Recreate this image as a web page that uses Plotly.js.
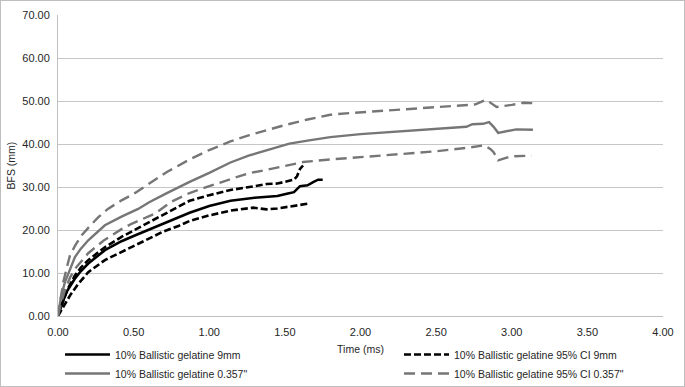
<!DOCTYPE html>
<html>
<head>
<meta charset="utf-8">
<script src="https://cdn.plot.ly/plotly-3.0.1.min.js"></script>
<style>
  html, body { margin: 0; padding: 0; background: #fff; }
  #wrap { position: relative; width: 685px; height: 387px; }
  #chart { width: 685px; height: 387px; }
  #frame { position: absolute; left: 0; top: 0; width: 685px; height: 387px; box-sizing: border-box;
           border: 1px solid #bfbfbf; pointer-events: none; }
</style>
</head>
<body>
<div id="wrap"><div id="chart"></div><div id="frame"></div></div>
<script>
// 10% Ballistic gelatine 9mm (mean)
const t9   = [0, 0.03, 0.06, 0.11, 0.15, 0.2, 0.31, 0.42, 0.5, 0.58, 0.7, 0.8, 0.87, 1.0, 1.14, 1.3, 1.45, 1.52, 1.56, 1.6, 1.65, 1.69, 1.72, 1.75];
const bfs9 = [0, 3.2, 5.8, 8.6, 10.4, 12.2, 15.3, 17.4, 18.6, 19.8, 21.6, 23.0, 24.0, 25.6, 26.8, 27.5, 27.9, 28.5, 28.8, 30.2, 30.4, 31.2, 31.7, 31.7];

// 95% CI 9mm upper / lower
const tU9  = [0, 0.03, 0.06, 0.11, 0.15, 0.2, 0.31, 0.42, 0.5, 0.58, 0.7, 0.8, 0.87, 1.0, 1.14, 1.3, 1.38, 1.45, 1.5, 1.56, 1.58, 1.6, 1.62];
const uci9 = [0, 3.0, 6.0, 9.3, 11.2, 13.0, 16.0, 18.4, 19.9, 21.4, 23.8, 25.6, 26.8, 28.1, 29.3, 30.2, 30.7, 30.8, 31.2, 31.7, 32.5, 34.2, 35.0];
const tL9  = [0, 0.04, 0.08, 0.13, 0.2, 0.31, 0.42, 0.5, 0.58, 0.7, 0.8, 0.87, 1.0, 1.14, 1.29, 1.34, 1.38, 1.45, 1.55, 1.65];
const lci9 = [0, 2.5, 4.8, 7.3, 10.2, 13.0, 14.9, 16.2, 17.6, 19.7, 21.0, 22.1, 23.4, 24.5, 25.2, 25.0, 24.8, 25.0, 25.5, 26.1];

// 10% Ballistic gelatine 0.357" (mean)
const t357   = [0, 0.02, 0.046, 0.08, 0.112, 0.15, 0.2, 0.31, 0.42, 0.53, 0.6, 0.71, 0.8, 0.87, 1.0, 1.14, 1.26, 1.38, 1.53, 1.65, 1.8, 2.0, 2.3, 2.5, 2.7, 2.74, 2.81, 2.85, 2.88, 2.91, 2.96, 3.03, 3.14];
const bfs357 = [0, 4.5, 7.9, 11.0, 13.7, 15.6, 17.6, 21.1, 23.1, 24.9, 26.4, 28.4, 30.0, 31.2, 33.3, 35.7, 37.3, 38.6, 40.1, 40.8, 41.6, 42.3, 43.0, 43.5, 44.0, 44.6, 44.7, 45.1, 44.0, 42.6, 43.0, 43.4, 43.3];

// 95% CI 0.357" upper / lower
const tU357  = [0, 0.02, 0.035, 0.06, 0.079, 0.112, 0.157, 0.2, 0.267, 0.33, 0.42, 0.5, 0.6, 0.72, 0.87, 1.0, 1.14, 1.26, 1.38, 1.5, 1.65, 1.8, 1.93, 2.2, 2.5, 2.7, 2.76, 2.83, 2.86, 2.9, 3.0, 3.08, 3.14];
const uci357 = [0, 4.5, 7.9, 11.5, 14.1, 16.3, 18.8, 20.5, 23.0, 24.9, 26.9, 28.4, 30.7, 33.5, 36.4, 38.6, 40.6, 42.0, 43.2, 44.4, 45.7, 46.8, 47.2, 47.8, 48.5, 49.0, 49.2, 50.3, 49.6, 48.6, 49.1, 49.6, 49.5];
const tL357  = [0, 0.02, 0.046, 0.08, 0.12, 0.2, 0.3, 0.42, 0.49, 0.64, 0.75, 0.87, 1.0, 1.14, 1.26, 1.38, 1.5, 1.62, 1.8, 2.0, 2.2, 2.5, 2.7, 2.82, 2.86, 2.88, 2.91, 2.95, 2.99, 3.13];
const lci357 = [0, 3.0, 6.0, 9.0, 11.3, 14.6, 17.5, 20.2, 21.5, 23.8, 26.6, 28.6, 30.2, 31.9, 33.2, 34.0, 34.9, 35.8, 36.4, 36.9, 37.4, 38.3, 39.1, 39.7, 38.8, 38.1, 36.2, 36.6, 37.1, 37.3];

const names = ['10% Ballistic gelatine 9mm', '10% Ballistic gelatine 0.357"',
               '10% Ballistic gelatine 95% CI 9mm', '10% Ballistic gelatine 95% CI 0.357"'];
const xTicks = [0, 0.5, 1, 1.5, 2, 2.5, 3, 3.5, 4];
const yTicks = [0, 10, 20, 30, 40, 50, 60, 70];
const xTitle = 'Time (ms)';
const yTitle = 'BFS (mm)';

const BLACK = '#000000', GREY = '#767676';
const blackDash = '7px,3px', greyDash = '11px,6px';

const traces = [
  {x: t9, y: bfs9, name: names[0], legend: 'legend', legendrank: 1,
   line: {color: BLACK, width: 2.6}},
  {x: t357, y: bfs357, name: names[1], legend: 'legend', legendrank: 2,
   line: {color: GREY, width: 2.4}},
  {x: tU9, y: uci9, name: names[2], legend: 'legend2', legendgroup: 'ci9', legendrank: 1,
   line: {color: BLACK, width: 2.6, dash: blackDash}},
  {x: tL9, y: lci9, name: names[2], legend: 'legend2', legendgroup: 'ci9', showlegend: false,
   line: {color: BLACK, width: 2.6, dash: blackDash}},
  {x: tU357, y: uci357, name: names[3], legend: 'legend2', legendgroup: 'ci357', legendrank: 2,
   line: {color: GREY, width: 2.4, dash: greyDash}},
  {x: tL357, y: lci357, name: names[3], legend: 'legend2', legendgroup: 'ci357', showlegend: false,
   line: {color: GREY, width: 2.4, dash: greyDash}}
].map(t => Object.assign({type: 'scatter', mode: 'lines', hoverinfo: 'skip'}, t));

const FONT = 'Liberation Sans, Arial, sans-serif';
const TXT = '#262626';

const legendCommon = {
  orientation: 'v', xref: 'container', yref: 'container', xanchor: 'left', yanchor: 'top',
  bgcolor: 'rgba(0,0,0,0)', borderwidth: 0, tracegroupgap: 0, traceorder: 'normal',
  itemwidth: 45,
  font: {family: FONT, size: 10.5, color: TXT}
};

const layout = {
  width: 685, height: 387,
  margin: {l: 58, r: 22, t: 15, b: 71, autoexpand: false},
  paper_bgcolor: '#ffffff', plot_bgcolor: '#ffffff',
  font: {family: FONT, color: TXT},
  showlegend: true,
  legend: Object.assign({}, legendCommon, {x: 60 / 685, y: 1 - 340 / 387}),
  legend2: Object.assign({}, legendCommon, {x: 399 / 685, y: 1 - 340 / 387}),
  xaxis: {
    range: [0, 4], tickvals: xTicks, tickformat: '.2f',
    showgrid: false, zeroline: false, showline: true, linecolor: '#bfbfbf', linewidth: 1,
    ticks: '', ticklabelstandoff: 6,
    tickfont: {family: FONT, size: 11, color: TXT},
    title: {text: xTitle, standoff: 8, font: {family: FONT, size: 10.5, color: TXT}},
    fixedrange: true
  },
  yaxis: {
    range: [0, 70], tickvals: yTicks, tickformat: '.2f',
    showgrid: true, gridcolor: '#c6c6c6', gridwidth: 1,
    zeroline: false, showline: true, linecolor: '#bfbfbf', linewidth: 1,
    ticks: '', ticklabelstandoff: 5,
    tickfont: {family: FONT, size: 11, color: TXT},
    fixedrange: true
  },
  annotations: [{
    text: yTitle, textangle: -90, showarrow: false,
    xref: 'paper', yref: 'paper', x: -48 / 605, y: 0.5,
    xanchor: 'center', yanchor: 'middle',
    font: {family: FONT, size: 10.5, color: TXT}
  }]
};

Plotly.newPlot('chart', traces, layout, {staticPlot: true, displayModeBar: false});
</script>
</body>
</html>
